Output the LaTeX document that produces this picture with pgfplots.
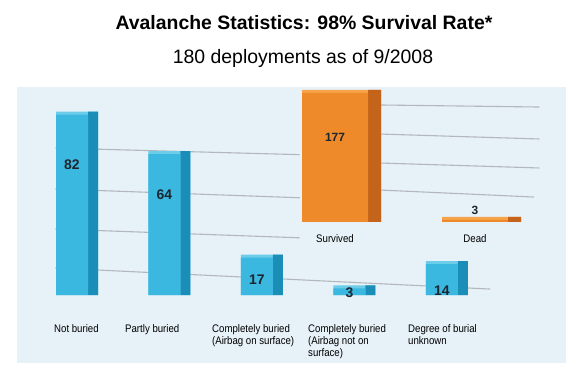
\documentclass[border=0pt]{standalone}
\usepackage{pgfplots}
\pgfplotsset{compat=1.18}
\usepackage{pgfplotstable}
\usepackage{fontspec}
\setmainfont{Liberation Sans}
\newfontfamily\narrow[FakeStretch=0.88]{Liberation Sans}
\definecolor{panel}{HTML}{E7F1F8}
\definecolor{bfront}{HTML}{3BB8E0}
\definecolor{bside}{HTML}{1B8EB8}
\definecolor{btop}{HTML}{6CCDEB}
\definecolor{ofront}{HTML}{EE8A2A}
\definecolor{oside}{HTML}{C4641A}
\definecolor{otop}{HTML}{F6A349}
\definecolor{gridc}{HTML}{B3B8BD}
\definecolor{labc}{HTML}{1C2630}

\pgfplotstableread{
x v ly
0 82 59.1
1 64 45.5
2 17 6.8
3 3 0.9
4 14 1.8
}\buried
\pgfplotstableread{
x v ly
0 177 116.4
1 3 16.4
}\outcome

\begin{document}
\begin{tikzpicture}
\path[use as bounding box] (0,0) rectangle (584bp,384bp);
\fill[panel] (17bp,21bp) rectangle (566bp,297bp);
\node[anchor=base] at (304bp,354bp) {\fontsize{19.5}{22}\selectfont\bfseries Avalanche Statistics: 98\% Survival Rate*};
\node[anchor=base] at (303bp,320bp) {\fontsize{19.5}{22}\selectfont 180 deployments as of 9/2008};

% blue group: degree of burial
\begin{axis}[
  at={(53.5bp,89bp)}, anchor=south west, scale only axis,
  width=485.6bp, height=198bp,
  xmin=-0.2, xmax=5.05, ymin=0, ymax=90,
  axis line style={draw=none}, major tick style={draw=none},
  ytick=\empty, xtick={0,...,4},
  xticklabels={
    {\hspace*{27bp}Not buried},
    {\hspace*{5.5bp}Partly buried},
    {Completely buried\\(Airbag on surface)},
    {\hspace*{3.5bp}Completely buried\\\hspace*{3.5bp}(Airbag not on\\\hspace*{3.5bp}surface)},
    {\hspace*{11bp}Degree of burial\\\hspace*{11bp}unknown}},
  xticklabel style={anchor=north west, inner sep=0pt, xshift=-45bp, yshift=-29bp,
    align=left, font=\narrow\fontsize{11}{12}\selectfont, text=black},
  clip=false,
]
\draw[gridc, line width=1.1bp] (axis cs:-0.18,66.8) -- (axis cs:2.46,63.8);
\draw[gridc, line width=1.1bp] (axis cs:-0.18,48.2) -- (axis cs:2.46,44.2);
\draw[gridc, line width=1.1bp] (axis cs:-0.18,30) -- (axis cs:2.46,26);
\draw[gridc, line width=1.1bp] (axis cs:-0.18,12.3) -- (axis cs:4.52,2.7);
\addplot[ybar, bar width=42bp, bar shift=5bp, fill=btop, draw=none]
  table[x=x, y expr=\thisrow{v}+1.4] {\buried};
\addplot[ybar, bar width=10bp, bar shift=21bp, fill=bside, draw=none]
  table[x=x, y expr=\thisrow{v}+1.4] {\buried};
\addplot[ybar, bar width=32bp, bar shift=0bp, fill=bfront, draw=none]
  table[x=x, y=v] {\buried};
\addplot[draw=none, nodes near coords={\pgfplotspointmeta}, point meta=explicit symbolic,
  every node near coord/.append style={anchor=center, inner sep=0pt,
    font=\fontsize{14}{14}\selectfont\bfseries, text=labc}]
  table[x=x, y=ly, meta=v] {\buried};
\end{axis}

% orange group: outcome
\begin{axis}[
  at={(293bp,162bp)}, anchor=south west, scale only axis,
  width=252bp, height=131.4bp,
  xmin=-0.3, xmax=1.5, ymin=0, ymax=180,
  axis line style={draw=none}, major tick style={draw=none},
  ytick=\empty, xtick={0,1},
  xticklabels={Survived, Dead},
  xticklabel style={anchor=north, inner sep=0pt, yshift=-12bp,
    font=\narrow\fontsize{11}{12}\selectfont, text=black},
  clip=false,
]
\draw[gridc, line width=1.1bp] (axis cs:0.32,160.3) -- (axis cs:1.46,157.5);
\draw[gridc, line width=1.1bp] (axis cs:0.32,120.5) -- (axis cs:1.46,113.7);
\draw[gridc, line width=1.1bp] (axis cs:0.32,80.8) -- (axis cs:1.46,74);
\draw[gridc, line width=1.1bp] (axis cs:0.32,43.8) -- (axis cs:1.42,34.2);
\addplot[ybar, bar width=79bp, bar shift=6.5bp, fill=otop, draw=none]
  table[x=x, y expr=\thisrow{v}+4] {\outcome};
\addplot[ybar, bar width=13bp, bar shift=39.5bp, fill=oside, draw=none]
  table[x=x, y expr=\thisrow{v}+4] {\outcome};
\addplot[ybar, bar width=66bp, bar shift=0bp, fill=ofront, draw=none]
  table[x=x, y=v] {\outcome};
\addplot[draw=none, nodes near coords={\pgfplotspointmeta}, point meta=explicit symbolic,
  every node near coord/.append style={anchor=center, inner sep=0pt,
    font=\fontsize{12}{12}\selectfont\bfseries, text=labc}]
  table[x=x, y=ly, meta=v] {\outcome};
\end{axis}
\end{tikzpicture}
\end{document}
